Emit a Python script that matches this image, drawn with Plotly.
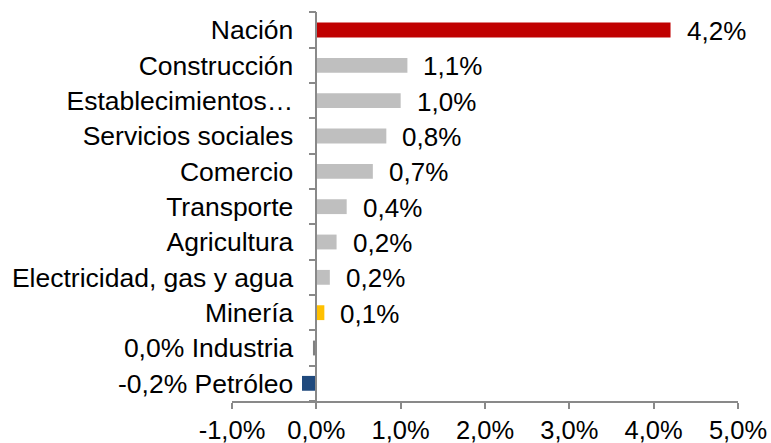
import plotly.graph_objects as go

categories = ["Nación", "Construcción", "Establecimientos…", "Servicios sociales",
              "Comercio", "Transporte", "Agricultura", "Electricidad, gas y agua",
              "Minería", "Industria", "Petróleo"]
values = [4.2, 1.08, 1.0, 0.83, 0.67, 0.36, 0.24, 0.16, 0.095, -0.04, -0.17]
colors = ["#C00000", "#BFBFBF", "#BFBFBF", "#BFBFBF", "#BFBFBF", "#BFBFBF",
          "#BFBFBF", "#BFBFBF", "#FFC000", "#808080", "#1F497D"]
x_tick_vals = [-1, 0, 1, 2, 3, 4, 5]
x_tick_text = ["-1,0%", "0,0%", "1,0%", "2,0%", "3,0%", "4,0%", "5,0%"]


def fmt(v):
    r = round(v, 1)
    if r == 0:
        r = 0.0
    return f"{r:.1f}".replace(".", ",") + "%"


labels = [fmt(v) for v in values]
ticktext = [f"{lab} {cat}" if v <= 0 else cat for cat, v, lab in zip(categories, values, labels)]

FONT = "Liberation Sans, Arial, sans-serif"
FS = 26
AX = "#898989"
xr = [-1, 5]

fig = go.Figure(go.Bar(
    y=categories, x=values, orientation="h",
    marker=dict(color=colors, line=dict(width=0)),
    hoverinfo="skip",
))

for cat, v, lab in zip(categories, values, labels):
    if v > 0:
        fig.add_annotation(x=v, y=cat, text=lab, showarrow=False, xanchor="left",
                           xshift=14, yshift=-1, font=dict(size=FS, color="#000000", family=FONT))

fig.update_layout(
    width=771, height=443,
    margin=dict(l=232, r=33, t=12, b=42, autoexpand=False),
    paper_bgcolor="white", plot_bgcolor="white",
    font=dict(family=FONT, size=FS, color="#000000"),
    bargap=0.58,
    showlegend=False,
    xaxis=dict(range=xr, tickvals=x_tick_vals, ticktext=x_tick_text, automargin=False,
               showgrid=False, zeroline=False, showline=True, linecolor=AX, linewidth=1.5,
               ticks="outside", ticklen=6, tickcolor=AX, tickwidth=1.5,
               ticklabelstandoff=0, tickfont=dict(size=25.5)),
    yaxis=dict(categoryorder="array", categoryarray=categories, autorange="reversed",
               tickvals=categories, ticktext=ticktext, automargin=False,
               anchor="free", position=(0 - xr[0]) / (xr[1] - xr[0]),
               showgrid=False, zeroline=False, showline=True, linecolor=AX, linewidth=1.5,
               ticks="outside", tickson="boundaries", ticklen=7, tickcolor=AX, tickwidth=1.5,
               ticklabelstandoff=17, tickfont=dict(size=26.5)),
)

fig.write_html("out.html", config={"displayModeBar": False},
               post_script="document.body.style.margin='0';document.body.style.overflow='hidden';")
